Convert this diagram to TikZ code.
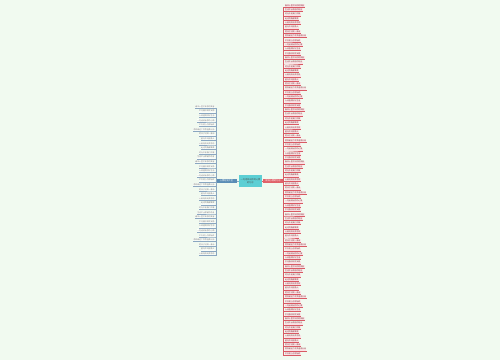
\documentclass[tikz,border=0pt]{standalone}
\usepackage{fontspec}
\setmainfont{Noto Sans CJK SC}
\usetikzlibrary{positioning}
\definecolor{bgcol}{HTML}{F1FAF0}
\definecolor{rootcol}{HTML}{5CCFD4}
\definecolor{leftcol}{HTML}{5B8DB6}
\definecolor{rightcol}{HTML}{E0626A}
\definecolor{leftline}{HTML}{8AA6C0}
\definecolor{rightline}{HTML}{D85A64}
\definecolor{pinkfill}{HTML}{FBE4E7}
\tikzstyle{rootnode} = [
  rectangle, fill=rootcol, minimum width=23pt,
  minimum height=12pt, inner sep=0.5pt,
  text centered, align=center, text=black!70,
  font=\fontsize{2.2}{2.8}\selectfont
]
\tikzstyle{branchnode} = [rectangle, minimum width=21pt, minimum height=4pt, inner sep=0.3pt, text=white, font=\fontsize{2.2}{2.6}\selectfont]
\tikzstyle{leftleaf} = [rectangle, anchor=east, fill=white!70!bgcol, minimum height=3pt, inner sep=0.4pt, text=black!55, font=\fontsize{1.9}{2.4}\selectfont]
\tikzstyle{rightleaf} = [rectangle, anchor=west, fill=pinkfill, minimum height=3pt, inner sep=0.4pt, text=rightline!60!black, font=\fontsize{1.9}{2.4}\selectfont]
\tikzstyle{leftlink} = [draw=leftline, line width=0.5pt]
\tikzstyle{rightlink} = [draw=rightline, line width=0.5pt]
\newcommand\leaftext[1]{\ifcase#1 春风十里不如你的笑容\or 愿你被这个世界温柔以待\or 时光不老我们不散\or 一句话说出你的心情\or 心若向阳无畏悲伤\or 岁月静好现世安稳\or 把日子过成一首诗\or 生活不止眼前的苟且\or 不忘初心方得始终\or 走过的路都算数\or 人间值得好好生活\or 星光不问赶路人\fi}

\begin{document}
\begin{tikzpicture}[x=1pt, y=-1pt]

\fill[bgcol] (0,0) rectangle (500,360);
\useasboundingbox (0,0) rectangle (500,360);

% Nodes
\node (root) [rootnode] at (250.5,181) {一句话说出你的心情\\的句子};
\node (lmain) [branchnode, fill=leftcol] at (226.5,181) {心情短句大全};
\node (rmain) [branchnode, fill=rightcol] at (273,181) {说说心情的句子};

% Arrows
\draw [leftlink] (root) -- (lmain);
\draw [rightlink] (root) -- (rmain);

% left leaves
\foreach \i in {0,...,32} {
  \pgfmathtruncatemacro\k{mod(\i*5,12)}
  \node (l\i) [leftleaf] at (215,{106.5+4.6*\i}) {\leaftext{\k}};
  \draw [leftlink] (lmain.west) |- (l\i.south east) -- (l\i.south west);
}

% right leaves
\foreach \i in {0,...,80} {
  \pgfmathtruncatemacro\k{mod(\i*7,12)}
  \node (r\i) [rightleaf] at (284.5,{5.5+4.35*\i}) {\leaftext{\k}};
  \draw [rightlink] (rmain.east) |- (r\i.south west) -- (r\i.south east);
}

\end{tikzpicture}
\end{document}
